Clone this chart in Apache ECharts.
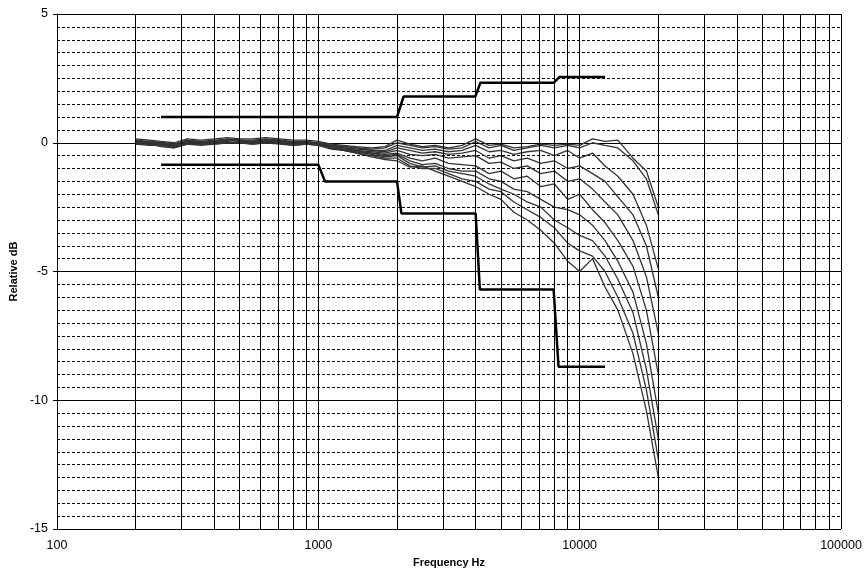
<!DOCTYPE html>
<html>
<head>
<meta charset="utf-8">
<script src="https://cdn.jsdelivr.net/npm/echarts@6/dist/echarts.min.js"></script>
<style>
html, body { margin: 0; padding: 0; background: #fff; }
#container { width: 867px; height: 576px; }
</style>
</head>
<body>
<div id="container"></div>
<script>
// frequency points of the measured curves (1/6 octave)
let freqs = [200, 225, 250, 280, 315, 355, 400, 450, 500, 560, 630, 710, 800, 900, 1000,
    1120, 1250, 1400, 1600, 1800, 2000, 2240, 2500, 2800, 3150, 3550, 4000, 4500, 5000,
    5600, 6300, 7100, 8000, 9000, 10000, 11200, 12500, 14000, 16000, 18000, 20000];

// measured responses, relative dB
let curve1 = [0.15, 0.1, 0.05, 0.0, 0.15, 0.1, 0.15, 0.2, 0.15, 0.15, 0.2, 0.15, 0.1, 0.1, 0.05,
    -0.05, -0.1, -0.15, -0.2, -0.15, 0.1, -0.05, -0.15, -0.1, -0.2, -0.1, 0.15, -0.1, -0.05,
    -0.2, -0.15, -0.05, -0.1, -0.05, -0.1, 0.15, 0.05, 0.1, -0.6, -1.1, -2.5];
let curve2 = [0.1, 0.05, 0.0, -0.05, 0.1, 0.05, 0.1, 0.15, 0.1, 0.1, 0.15, 0.1, 0.05, 0.05, 0.0,
    -0.1, -0.15, -0.2, -0.25, -0.2, 0.0, -0.1, -0.2, -0.15, -0.25, -0.2, 0.05, -0.2, -0.1,
    -0.3, -0.2, -0.1, -0.2, -0.1, -0.2, 0.0, -0.1, -0.2, -0.7, -1.4, -2.8];
let curve3 = [0.0, -0.05, -0.05, -0.15, 0.0, 0.0, 0.05, 0.05, 0.1, 0.0, 0.05, 0.05, 0.0, 0.0, -0.05,
    -0.1, -0.15, -0.2, -0.3, -0.3, -0.1, -0.2, -0.3, -0.25, -0.35, -0.3, -0.1, -0.35, -0.3,
    -0.45, -0.35, -0.3, -0.5, -0.3, -0.6, -0.4, -0.9, -1.3, -2.0, -3.2, -4.9];
let curve4 = [0.05, 0.0, -0.1, -0.1, 0.05, -0.05, 0.0, 0.1, 0.05, 0.05, 0.1, 0.05, 0.0, 0.0, 0.0,
    -0.1, -0.2, -0.25, -0.3, -0.35, -0.2, -0.3, -0.4, -0.35, -0.45, -0.4, -0.3, -0.6, -0.5,
    -0.7, -0.6, -0.8, -0.7, -1.0, -0.9, -1.2, -1.5, -2.1, -2.8, -4.0, -6.0];
let curve5 = [0.1, 0.0, 0.0, -0.1, 0.05, 0.0, 0.05, 0.1, 0.1, 0.0, 0.05, 0.1, 0.0, 0.0, -0.05,
    -0.15, -0.2, -0.3, -0.35, -0.4, -0.3, -0.45, -0.5, -0.45, -0.6, -0.55, -0.5, -0.8, -0.75,
    -1.0, -0.9, -1.2, -1.1, -1.5, -1.4, -1.8, -2.3, -2.8, -3.8, -5.2, -7.4];
let curve6 = [0.0, -0.05, -0.1, -0.15, -0.05, -0.05, 0.0, 0.0, 0.0, 0.0, 0.05, 0.0, -0.05, -0.05, -0.05,
    -0.15, -0.25, -0.3, -0.4, -0.45, -0.4, -0.6, -0.7, -0.6, -0.8, -0.85, -0.9, -1.2, -1.1,
    -1.4, -1.3, -1.7, -1.6, -2.2, -2.0, -2.6, -3.1, -3.8, -4.8, -6.5, -9.0];
let curve7 = [0.05, 0.05, 0.0, -0.05, 0.05, 0.05, 0.0, 0.1, 0.1, 0.05, 0.1, 0.1, 0.0, 0.05, -0.05,
    -0.2, -0.25, -0.35, -0.4, -0.5, -0.45, -0.7, -0.85, -0.8, -1.0, -1.1, -1.1, -1.4, -1.5,
    -1.8, -1.9, -2.2, -2.5, -2.6, -2.8, -3.2, -3.8, -4.6, -5.8, -7.8, -10.5];
let curve8 = [-0.05, -0.05, -0.15, -0.2, -0.05, -0.1, -0.05, 0.0, 0.0, -0.05, 0.0, 0.0, -0.1, -0.05, -0.1,
    -0.2, -0.3, -0.35, -0.45, -0.55, -0.5, -0.8, -0.95, -0.9, -1.1, -1.2, -1.3, -1.6, -1.8,
    -2.0, -2.3, -2.5, -3.0, -3.3, -3.6, -3.8, -4.4, -5.3, -6.6, -8.8, -11.5];
let curve9 = [0.05, 0.0, -0.05, -0.1, 0.05, 0.0, 0.05, 0.1, 0.05, 0.05, 0.1, 0.05, 0.0, 0.0, -0.05,
    -0.2, -0.3, -0.4, -0.5, -0.6, -0.6, -0.9, -1.0, -1.0, -1.2, -1.4, -1.5, -1.8, -1.9,
    -2.3, -2.6, -2.9, -3.3, -3.9, -4.2, -4.4, -5.0, -6.0, -7.4, -9.6, -12.3];
let curve10 = [-0.05, -0.1, -0.1, -0.2, -0.05, -0.05, -0.05, 0.0, 0.0, -0.05, 0.0, -0.05, -0.1, -0.05, -0.1,
    -0.25, -0.3, -0.4, -0.55, -0.65, -0.7, -0.95, -0.9, -1.1, -1.3, -1.5, -1.7, -2.0, -2.2,
    -2.7, -3.0, -3.4, -3.9, -4.6, -5.0, -4.5, -5.6, -6.5, -8.2, -10.4, -13.0];
let curves = [curve1, curve2, curve3, curve4, curve5, curve6, curve7, curve8, curve9, curve10];

// tolerance limits
let upperFreq = [250, 2000, 2120, 3990, 4170, 7950, 8350, 12500];
let upperDb = [1.0, 1.0, 1.8, 1.8, 2.33, 2.33, 2.55, 2.55];
let lowerFreq = [250, 1000, 1060, 2000, 2080, 4000, 4150, 7950, 8300, 12500];
let lowerDb = [-0.85, -0.85, -1.5, -1.5, -2.75, -2.75, -5.7, -5.7, -8.7, -8.7];

// minor log grid lines
let minorX = [200, 300, 400, 500, 600, 700, 800, 900,
    2000, 3000, 4000, 5000, 6000, 7000, 8000, 9000,
    20000, 30000, 40000, 50000, 60000, 70000, 80000, 90000];

function zip(xs, ys) {
    let out = [];
    for (let i = 0; i < xs.length; i++) {
        out.push([xs[i], ys[i]]);
    }
    return out;
}

let font = 'Liberation Sans, Arial, sans-serif';
let series = [];

// vertical minor grid
series.push({
    type: 'line',
    data: [],
    silent: true,
    z: 1,
    markLine: {
        silent: true,
        symbol: 'none',
        label: { show: false },
        animation: false,
        lineStyle: { color: '#000', width: 1, type: 'solid' },
        data: minorX.map(function (v) { return { xAxis: v }; })
    }
});

for (let i = 0; i < curves.length; i++) {
    series.push({
        type: 'line',
        data: zip(freqs, curves[i]),
        showSymbol: false,
        z: 3,
        lineStyle: { color: '#333', width: 1.3 }
    });
}

series.push({
    type: 'line',
    data: zip(upperFreq, upperDb),
    showSymbol: false,
    z: 4,
    lineStyle: { color: '#000', width: 2.5 }
});
series.push({
    type: 'line',
    data: zip(lowerFreq, lowerDb),
    showSymbol: false,
    z: 4,
    lineStyle: { color: '#000', width: 2.5 }
});

let option = {
    animation: false,
    backgroundColor: '#fff',
    grid: { left: 56, right: 26, top: 14, bottom: 47 },
    xAxis: {
        type: 'log',
        logBase: 10,
        min: 100,
        max: 100000,
        name: 'Frequency Hz',
        nameLocation: 'middle',
        nameGap: 28,
        nameTextStyle: { fontFamily: font, fontSize: 11, fontWeight: 'bold', color: '#000' },
        axisLine: { lineStyle: { color: '#000', width: 1 } },
        axisTick: { show: true, length: 4, inside: false, lineStyle: { color: '#000' } },
        axisLabel: {
            fontFamily: font, fontSize: 12.5, color: '#000', margin: 10,
            formatter: function (v) { return String(Math.round(v)); }
        },
        splitLine: { show: true, lineStyle: { color: '#000', width: 1 } }
    },
    yAxis: {
        type: 'value',
        min: -15,
        max: 5,
        interval: 5,
        name: 'Relative dB',
        nameLocation: 'middle',
        nameRotate: 90,
        nameGap: 38,
        nameTextStyle: { fontFamily: font, fontSize: 11, fontWeight: 'bold', color: '#000' },
        axisLine: { show: true, lineStyle: { color: '#000', width: 1 } },
        axisTick: { show: true, length: 4, inside: false, lineStyle: { color: '#000' } },
        axisLabel: { fontFamily: font, fontSize: 12.5, color: '#000', margin: 9 },
        splitLine: { show: true, lineStyle: { color: '#000', width: 1 } },
        minorTick: { show: false, splitNumber: 10 },
        minorSplitLine: { show: true, lineStyle: { color: '#000', width: 1, type: [3, 2] } }
    },
    series: series
};

let dom = document.getElementById('container');
let myChart = echarts.init(dom);
myChart.setOption(option, true);
</script>
</body>
</html>
